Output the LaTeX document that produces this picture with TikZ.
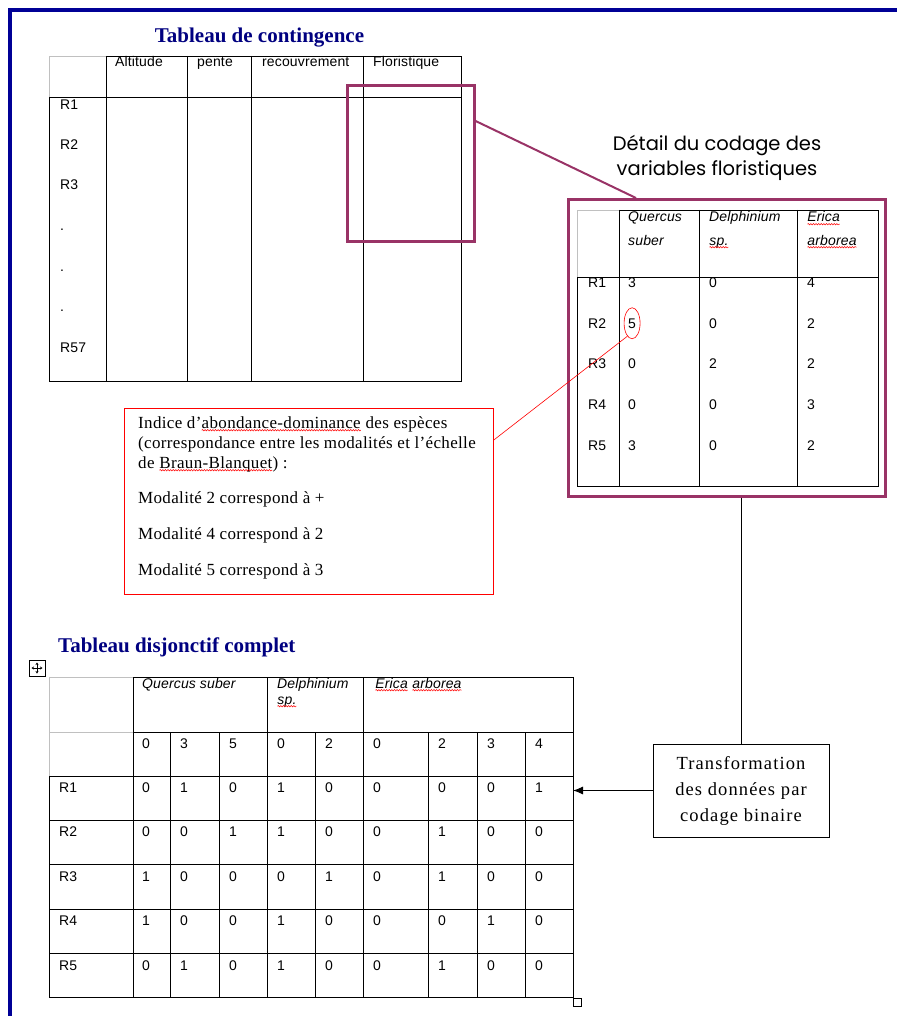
\documentclass[tikz,border=0pt]{standalone}
\usepackage{fontspec}
\setmainfont{Liberation Serif}
\newfontfamily\serifspaced[LetterSpace=2]{Liberation Serif}
\newfontfamily\serifwide[LetterSpace=6]{Liberation Serif}
\newfontfamily\arialfont[LetterSpace=1]{Liberation Sans}
\newfontfamily\gothicfont{Poppins}
\usetikzlibrary{positioning,calc,shapes.geometric,decorations.pathmorphing,arrows.meta}

\definecolor{navy}{RGB}{0,0,128}
\definecolor{framebleu}{RGB}{0,0,150}
\definecolor{prune}{RGB}{153,51,102}
\definecolor{grisclair}{RGB}{192,192,192}

% red spell-check squiggle under a word
\newcommand{\vague}[1]{\tikz[baseline=(v.base)]{\node[inner sep=0pt,outer sep=0pt] (v) {#1};
  \draw[red,line width=0.5pt,decorate,decoration={snake,amplitude=0.7pt,segment length=2.6pt}]
    ([yshift=-2.2pt]v.base west) -- ([yshift=-2.2pt]v.base east);}}

\begin{document}
\begin{tikzpicture}[x=1pt,y=-1pt,
    titre/.style={font=\bfseries\fontsize{21}{25}\selectfont,text=navy,inner sep=0pt,anchor=base},
    tabline/.style={line width=0.95pt},
    grisline/.style={line width=0.95pt,draw=grisclair},
    tabtxt/.style={font=\arialfont\fontsize{14}{16}\selectfont,anchor=base west,inner sep=0pt},
    italtxt/.style={tabtxt,font=\arialfont\itshape\fontsize{14}{16}\selectfont},
    zoomcadre/.style={draw=prune,line width=2.6pt,inner sep=0pt,anchor=north west}]
  \useasboundingbox (0,0) rectangle (897,1016);

  % page frame
  \draw[framebleu,line width=3.5pt] (10,1016) -- (10,10) -- (897,10);

  % --- tableau de contingence ---
  \node[titre] (titreCont) at (259.5,43) {Tableau de contingence};
  \draw[grisline] (106,56) -- (49,56) -- (49,97);
  \draw[tabline] (49,97) -- (49,381) -- (461,381) -- (461,56) -- (106,56);
  \draw[tabline] (49,97) -- (461,97);
  \foreach \cx in {106,187,251,363} \draw[tabline] (\cx,56) -- (\cx,381);
  \node[tabtxt] (hAlt)  at (115,67) {Altitude};
  \node[tabtxt] (hPente) at (197,67) {pente};
  \node[tabtxt] (hRec)  at (262,67) {recouvrement};
  \node[tabtxt] (hFlo)  at (373,67) {Floristique};
  \foreach \lab/\yb [count=\i] in {R1/110,R2/150,R3/190,./231,./271,./311,R57/352}
    \node[tabtxt] (cont\i) at (60,\yb) {\lab};

  \node[zoomcadre,minimum width=127pt,minimum height=156pt] (loupe) at (346,84) {};

  % --- detail ---
  \node[font=\gothicfont\fontsize{19.5}{25}\selectfont,align=center] (titreDetail) at (717,158)
    {Détail du codage des\\variables floristiques};
  \node[zoomcadre,minimum width=317pt,minimum height=297pt] (detail) at (567,198) {};
  \draw[prune,line width=2pt] ([yshift=-37pt]loupe.north east) -- ([xshift=69pt]detail.north west);

  \draw[grisline] (619,210) -- (577,210) -- (577,277);
  \draw[tabline] (577,277) -- (577,486) -- (878,486) -- (878,210) -- (619,210);
  \draw[tabline] (577,277) -- (878,277);
  \foreach \cx in {619,699,797} \draw[tabline] (\cx,210) -- (\cx,486);
  \node[italtxt] (dQ1) at (628,222) {Quercus};
  \node[italtxt] (dQ2) at (628,245) {suber};
  \node[italtxt] (dD1) at (709,222) {Delphinium};
  \node[italtxt] (dD2) at (709,245) {\vague{sp.}};
  \node[italtxt] (dE1) at (807,222) {\vague{Erica}};
  \node[italtxt] (dE2) at (807,245) {\vague{arborea}};
  \foreach \r/\yb/\a/\b/\c [count=\i] in {R1/287/3/0/4,R2/328/5/0/2,R3/368/0/2/2,R4/409/0/0/3,R5/450/3/0/2}{
    \node[tabtxt] (dr\i) at (588,\yb) {\r};
    \node[tabtxt] (da\i) at (628,\yb) {\a};
    \node[tabtxt] (db\i) at (709,\yb) {\b};
    \node[tabtxt] (dc\i) at (807,\yb) {\c};
  }
  \node[ellipse,draw=red,line width=0.6pt,minimum width=16pt,minimum height=31pt,inner sep=0pt]
    (cinq) at (da2.center) {};

  % --- indice d'abondance ---
  \node[draw=red,line width=0.8pt,minimum width=369pt,minimum height=186pt,anchor=north west] (indice) at (124,408) {};
  \node[font=\serifspaced\fontsize{17}{20}\selectfont,align=left,anchor=north west,inner sep=0pt] (indiceTxt) at (138,416)
    {Indice d’\vague{abondance-dominance} des espèces\\
     (correspondance entre les modalités et l’échelle\\
     de \vague{Braun-Blanquet}) :\\[15pt]
     Modalité 2 correspond à +\\[16pt]
     Modalité 4 correspond à 2\\[16pt]
     Modalité 5 correspond à 3};
  \draw[red,line width=0.6pt] (cinq.250) -- ([yshift=-32pt]indice.north east);

  % --- transformation ---
  \node[draw,line width=0.9pt,minimum width=176pt,minimum height=93pt,align=center,
    font=\serifwide\fontsize{18.5}{26}\selectfont] (transf) at (741,790.5)
    {Transformation\\des données par\\codage binaire};
  \draw[line width=0.9pt] (detail.south -| transf.north) -- (transf.north);

  % --- tableau disjonctif complet ---
  \node[titre,anchor=base west] (titreDisj) at (58,652) {Tableau disjonctif complet};
  \node[draw,line width=0.6pt,minimum size=16pt,inner sep=0pt] (poignee) at (37,668) {};
  \foreach \dx/\dy in {5.5/0,-5.5/0,0/5.5,0/-5.5}
    \draw[line width=0.6pt,-{Stealth[length=2.5pt,width=3pt]}] (poignee.center) -- ++(\dx,\dy);

  \draw[grisline] (49,776) -- (49,677) -- (133,677);
  \draw[grisline] (49,732) -- (133,732);
  \draw[tabline] (49,776) -- (49,997) -- (573,997) -- (573,677) -- (133,677) -- (133,997);
  \draw[tabline] (133,732) -- (573,732);
  \foreach \ry in {776,820,864,909,953} \draw[tabline] (49,\ry) -- (573,\ry);
  \foreach \cx in {267,363} \draw[tabline] (\cx,677) -- (\cx,997);
  \foreach \cx in {170,219,315,428,477,525} \draw[tabline] (\cx,732) -- (\cx,997);
  \coordinate (disjNE) at (573,677);

  \node[italtxt] (tQ) at (142,688) {Quercus suber};
  \node[italtxt] (tD1) at (277,688) {Delphinium};
  \node[italtxt] (tD2) at (277,704) {\vague{sp.}};
  \node[italtxt] (tE) at (375,688) {\vague{Erica} \vague{arborea}};
  \foreach \v [count=\j] in {0,3,5,0,2,0,2,3,4}{
    \pgfmathsetmacro\cx{{132,170,219,267,315,363,428,477,525}[\j-1]+10}
    \node[tabtxt] (m\j) at (\cx,748) {\v};
  }
  \foreach \r/\yb/\vals [count=\i] in {R1/792/{0,1,0,1,0,0,0,0,1},R2/836/{0,0,1,1,0,0,1,0,0},
      R3/881/{1,0,0,0,1,0,1,0,0},R4/925/{1,0,0,1,0,0,0,1,0},R5/970/{0,1,0,1,0,0,1,0,0}}{
    \node[tabtxt] (b\i) at (59,\yb) {\r};
    \foreach \v [count=\j] in \vals {
      \pgfmathsetmacro\cx{{132,170,219,267,315,363,428,477,525}[\j-1]+10}
      \node[tabtxt] (b\i-\j) at (\cx,\yb) {\v};
    }
  }
  \node[draw,fill=white,line width=0.6pt,minimum size=8pt,inner sep=0pt,anchor=north west] (coinTab) at (573,998) {};

  \draw[line width=0.9pt,-{Latex[length=10pt,width=8pt]}] (transf.west) -- (transf.west -| disjNE);
\end{tikzpicture}
\end{document}
